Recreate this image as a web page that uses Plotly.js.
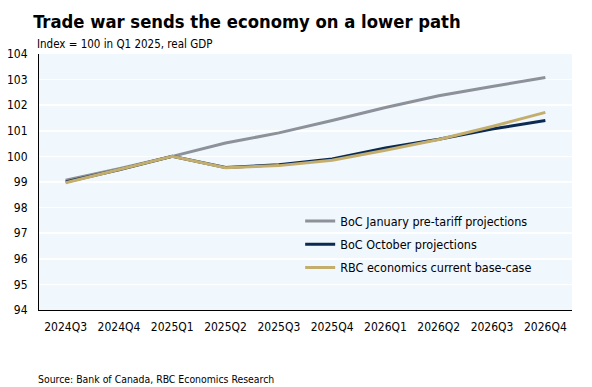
<!DOCTYPE html>
<html>
<head>
<meta charset="utf-8">
<script src="https://cdn.plot.ly/plotly-3.0.1.min.js"></script>
<style>html,body{margin:0;padding:0;background:#fff;}#chart{width:592px;height:387px;}</style>
</head>
<body>
<div id="chart"></div>
<script>
const quarters = ["2024Q3","2024Q4","2025Q1","2025Q2","2025Q3","2025Q4","2026Q1","2026Q2","2026Q3","2026Q4"];
const bocJanuary = [99.07, 99.52, 100.0, 100.52, 100.92, 101.40, 101.91, 102.37, 102.73, 103.08];
const bocOctober = [99.00, 99.48, 100.0, 99.57, 99.67, 99.90, 100.33, 100.67, 101.07, 101.40];
const rbcBase = [98.97, 99.47, 100.0, 99.56, 99.64, 99.85, 100.24, 100.66, 101.17, 101.72];
const yTicks = [94,95,96,97,98,99,100,101,102,103,104];

const font = "'DejaVu Sans Condensed', 'DejaVu Sans', sans-serif";
const traces = [
  {x: quarters, y: bocJanuary, name: "BoC January pre-tariff projections", legendgroup: "a", mode: "lines", line: {color: "#8d9199", width: 3}},
  {x: quarters, y: bocOctober, name: "BoC October projections", legendgroup: "b", mode: "lines", line: {color: "#0b2a52", width: 3}},
  {x: quarters, y: rbcBase, name: "RBC economics current base-case", legendgroup: "c", mode: "lines", line: {color: "#c3ae6e", width: 3}}
];
const layout = {
  width: 592, height: 387,
  margin: {l: 39, r: 20, t: 54, b: 77},
  paper_bgcolor: "#ffffff",
  plot_bgcolor: "#f0f7fd",
  font: {family: font, size: 12, color: "#000"},
  showlegend: true,
  legend: {x: 0.49, y: 0.405, xanchor: "left", yanchor: "top", bgcolor: "rgba(0,0,0,0)", traceorder: "grouped",
           font: {family: font, size: 12.5, color: "#000"}, tracegroupgap: 4, itemwidth: 30},
  xaxis: {type: "category", range: [-0.5, 9.5], showgrid: false, showline: true, linecolor: "#000", linewidth: 1,
          ticks: "", ticklabelstandoff: 6, tickfont: {family: font, size: 12}, zeroline: false},
  yaxis: {range: [94, 104], tickvals: yTicks, showgrid: true, gridcolor: "#ffffff", gridwidth: 1.5,
          showline: true, linecolor: "#000", linewidth: 1, ticks: "", ticklabelstandoff: 8,
          tickfont: {family: font, size: 12}, zeroline: false},
  title: {text: "<b>Trade war sends the economy on a lower path</b>", x: 0.056, xanchor: "left", y: 0.945, yanchor: "middle",
          font: {family: font, size: 18.3, color: "#000"}},
  annotations: [
    {text: "Index = 100 in Q1 2025, real GDP", xref: "paper", yref: "paper", x: -0.007, y: 1.005, xanchor: "left", yanchor: "bottom",
     showarrow: false, font: {family: font, size: 11.5}},
    {text: "Source: Bank of Canada, RBC Economics Research", xref: "paper", yref: "paper", x: -0.005, y: -0.27, xanchor: "left", yanchor: "middle",
     showarrow: false, font: {family: font, size: 10.4}}
  ]
};
Plotly.newPlot("chart", traces, layout, {displayModeBar: false, staticPlot: true});
</script>
</body>
</html>
